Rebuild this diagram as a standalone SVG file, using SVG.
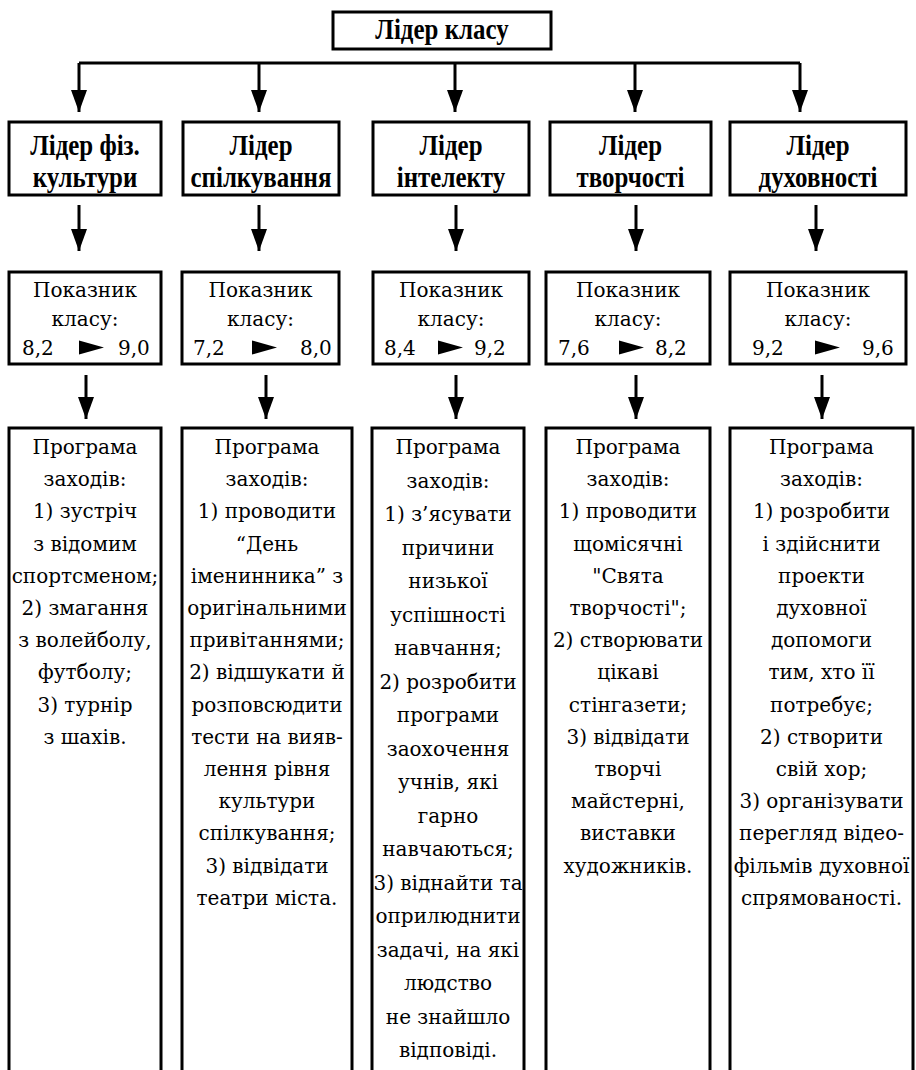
<svg xmlns="http://www.w3.org/2000/svg" width="916" height="1070" viewBox="0 0 916 1070">
<style>
.box{fill:#fff;stroke:#000;stroke-width:3}
.hd{font-family:'Liberation Serif','DejaVu Serif',serif;font-weight:bold;font-size:29px;fill:#000;text-anchor:middle}
.tx{font-family:'DejaVu Serif','Liberation Serif',serif;font-size:20px;fill:#000;text-anchor:middle}
.nv{font-family:'DejaVu Serif','Liberation Serif',serif;font-size:20px;fill:#000}
.ln{stroke:#000;stroke-width:3;fill:none}
.tri{fill:#000}
</style>
<defs>
<marker id="ah" markerUnits="userSpaceOnUse" markerWidth="24" markerHeight="18" refX="22" refY="8" orient="auto">
<path d="M0,0 L22,8 L0,16 z" fill="#000"/>
</marker>
</defs>
<rect width="916" height="1070" fill="#fff"/>
<g id="connectors">
<line class="ln" x1="79" y1="63" x2="800" y2="63"/>
<line class="ln" x1="79" y1="63" x2="79" y2="112" marker-end="url(#ah)"/>
<line class="ln" x1="259" y1="63" x2="259" y2="112" marker-end="url(#ah)"/>
<line class="ln" x1="455" y1="63" x2="455" y2="112" marker-end="url(#ah)"/>
<line class="ln" x1="635" y1="63" x2="635" y2="112" marker-end="url(#ah)"/>
<line class="ln" x1="800" y1="63" x2="800" y2="112" marker-end="url(#ah)"/>
<line class="ln" x1="79" y1="205" x2="79" y2="251" marker-end="url(#ah)"/>
<line class="ln" x1="259" y1="205" x2="259" y2="251" marker-end="url(#ah)"/>
<line class="ln" x1="456" y1="205" x2="456" y2="251" marker-end="url(#ah)"/>
<line class="ln" x1="636" y1="205" x2="636" y2="251" marker-end="url(#ah)"/>
<line class="ln" x1="816" y1="205" x2="816" y2="251" marker-end="url(#ah)"/>
<line class="ln" x1="86" y1="375" x2="86" y2="419" marker-end="url(#ah)"/>
<line class="ln" x1="266" y1="375" x2="266" y2="419" marker-end="url(#ah)"/>
<line class="ln" x1="456" y1="375" x2="456" y2="419" marker-end="url(#ah)"/>
<line class="ln" x1="636" y1="375" x2="636" y2="419" marker-end="url(#ah)"/>
<line class="ln" x1="822" y1="375" x2="822" y2="419" marker-end="url(#ah)"/>
</g>
<g id="leader-class">
<rect class="box" x="333" y="12" width="218" height="37"/>
<text class="hd" transform="translate(442,39) scale(0.86,1)">Лідер класу</text>
</g>
<g id="leader-1">
<rect class="box" x="9" y="122" width="152" height="73"/>
<text class="hd" transform="translate(85,155) scale(0.86,1)">Лідер фіз.</text>
<text class="hd" transform="translate(85,187) scale(0.86,1)">культури</text>
</g>
<g id="leader-2">
<rect class="box" x="183" y="122" width="156" height="73"/>
<text class="hd" transform="translate(261,155) scale(0.86,1)">Лідер</text>
<text class="hd" transform="translate(261,187) scale(0.86,1)">спілкування</text>
</g>
<g id="leader-3">
<rect class="box" x="373" y="122" width="156" height="73"/>
<text class="hd" transform="translate(451,155) scale(0.86,1)">Лідер</text>
<text class="hd" transform="translate(451,187) scale(0.86,1)">інтелекту</text>
</g>
<g id="leader-4">
<rect class="box" x="550" y="122" width="161" height="73"/>
<text class="hd" transform="translate(630.5,155) scale(0.86,1)">Лідер</text>
<text class="hd" transform="translate(630.5,187) scale(0.86,1)">творчості</text>
</g>
<g id="leader-5">
<rect class="box" x="730" y="122" width="176" height="73"/>
<text class="hd" transform="translate(818,155) scale(0.86,1)">Лідер</text>
<text class="hd" transform="translate(818,187) scale(0.86,1)">духовності</text>
</g>
<g id="index-1">
<rect class="box" x="9" y="272" width="152" height="92"/>
<text class="tx" x="85" y="297">Показник</text>
<text class="tx" x="85" y="326">класу:</text>
<text class="nv" x="22" y="355">8,2</text>
<polygon class="tri" points="79,340.5 104,347.5 79,354.5"/>
<text class="nv" x="118" y="355">9,0</text>
</g>
<g id="index-2">
<rect class="box" x="182" y="272" width="157" height="92"/>
<text class="tx" x="260.5" y="297">Показник</text>
<text class="tx" x="260.5" y="326">класу:</text>
<text class="nv" x="193" y="355">7,2</text>
<polygon class="tri" points="252,340.5 277,347.5 252,354.5"/>
<text class="nv" x="300" y="355">8,0</text>
</g>
<g id="index-3">
<rect class="box" x="373" y="272" width="156" height="92"/>
<text class="tx" x="451" y="297">Показник</text>
<text class="tx" x="451" y="326">класу:</text>
<text class="nv" x="384" y="355">8,4</text>
<polygon class="tri" points="438,340.5 463,347.5 438,354.5"/>
<text class="nv" x="474" y="355">9,2</text>
</g>
<g id="index-4">
<rect class="box" x="546" y="272" width="164" height="92"/>
<text class="tx" x="628" y="297">Показник</text>
<text class="tx" x="628" y="326">класу:</text>
<text class="nv" x="558" y="355">7,6</text>
<polygon class="tri" points="619,340.5 644,347.5 619,354.5"/>
<text class="nv" x="655" y="355">8,2</text>
</g>
<g id="index-5">
<rect class="box" x="730" y="272" width="176" height="92"/>
<text class="tx" x="818" y="297">Показник</text>
<text class="tx" x="818" y="326">класу:</text>
<text class="nv" x="752" y="355">9,2</text>
<polygon class="tri" points="815,340.5 840,347.5 815,354.5"/>
<text class="nv" x="862" y="355">9,6</text>
</g>
<g id="program-1">
<rect class="box" x="9" y="428" width="152" height="660"/>
<text class="tx" x="85" y="454">Програма</text>
<text class="tx" x="85" y="486.2">заходів:</text>
<text class="tx" x="85" y="518.4">1) зустріч</text>
<text class="tx" x="85" y="550.6">з відомим</text>
<text class="tx" x="85" y="582.8">спортсменом;</text>
<text class="tx" x="85" y="615">2) змагання</text>
<text class="tx" x="85" y="647.2">з волейболу,</text>
<text class="tx" x="85" y="679.4">футболу;</text>
<text class="tx" x="85" y="711.6">3) турнір</text>
<text class="tx" x="85" y="743.8">з шахів.</text>
</g>
<g id="program-2">
<rect class="box" x="182" y="428" width="170" height="660"/>
<text class="tx" x="267" y="454">Програма</text>
<text class="tx" x="267" y="486.2">заходів:</text>
<text class="tx" x="267" y="518.4">1) проводити</text>
<text class="tx" x="267" y="550.6">“День</text>
<text class="tx" x="267" y="582.8">іменинника” з</text>
<text class="tx" x="267" y="615">оригінальними</text>
<text class="tx" x="267" y="647.2">привітаннями;</text>
<text class="tx" x="267" y="679.4">2) відшукати й</text>
<text class="tx" x="267" y="711.6">розповсюдити</text>
<text class="tx" x="267" y="743.8">тести на вияв-</text>
<text class="tx" x="267" y="776">лення рівня</text>
<text class="tx" x="267" y="808.2">культури</text>
<text class="tx" x="267" y="840.4">спілкування;</text>
<text class="tx" x="267" y="872.6">3) відвідати</text>
<text class="tx" x="267" y="904.8">театри міста.</text>
</g>
<g id="program-3">
<rect class="box" x="372" y="428" width="152" height="660"/>
<text class="tx" x="448" y="454">Програма</text>
<text class="tx" x="448" y="487.5">заходів:</text>
<text class="tx" x="448" y="521">1) з’ясувати</text>
<text class="tx" x="448" y="554.5">причини</text>
<text class="tx" x="448" y="588">низької</text>
<text class="tx" x="448" y="621.5">успішності</text>
<text class="tx" x="448" y="655">навчання;</text>
<text class="tx" x="448" y="688.5">2) розробити</text>
<text class="tx" x="448" y="722">програми</text>
<text class="tx" x="448" y="755.5">заохочення</text>
<text class="tx" x="448" y="789">учнів, які</text>
<text class="tx" x="448" y="822.5">гарно</text>
<text class="tx" x="448" y="856">навчаються;</text>
<text class="tx" x="448" y="889.5">3) віднайти та</text>
<text class="tx" x="448" y="923">оприлюднити</text>
<text class="tx" x="448" y="956.5">задачі, на які</text>
<text class="tx" x="448" y="990">людство</text>
<text class="tx" x="448" y="1023.5">не знайшло</text>
<text class="tx" x="448" y="1057">відповіді.</text>
</g>
<g id="program-4">
<rect class="box" x="546" y="428" width="164" height="660"/>
<text class="tx" x="628" y="454">Програма</text>
<text class="tx" x="628" y="486.2">заходів:</text>
<text class="tx" x="628" y="518.4">1) проводити</text>
<text class="tx" x="628" y="550.6">щомісячні</text>
<text class="tx" x="628" y="582.8">"Свята</text>
<text class="tx" x="628" y="615">творчості";</text>
<text class="tx" x="628" y="647.2">2) створювати</text>
<text class="tx" x="628" y="679.4">цікаві</text>
<text class="tx" x="628" y="711.6">стінгазети;</text>
<text class="tx" x="628" y="743.8">3) відвідати</text>
<text class="tx" x="628" y="776">творчі</text>
<text class="tx" x="628" y="808.2">майстерні,</text>
<text class="tx" x="628" y="840.4">виставки</text>
<text class="tx" x="628" y="872.6">художників.</text>
</g>
<g id="program-5">
<rect class="box" x="730" y="428" width="183" height="660"/>
<text class="tx" x="821.5" y="454">Програма</text>
<text class="tx" x="821.5" y="486.2">заходів:</text>
<text class="tx" x="821.5" y="518.4">1) розробити</text>
<text class="tx" x="821.5" y="550.6">і здійснити</text>
<text class="tx" x="821.5" y="582.8">проекти</text>
<text class="tx" x="821.5" y="615">духовної</text>
<text class="tx" x="821.5" y="647.2">допомоги</text>
<text class="tx" x="821.5" y="679.4">тим, хто її</text>
<text class="tx" x="821.5" y="711.6">потребує;</text>
<text class="tx" x="821.5" y="743.8">2) створити</text>
<text class="tx" x="821.5" y="776">свій хор;</text>
<text class="tx" x="821.5" y="808.2">3) організувати</text>
<text class="tx" x="821.5" y="840.4">перегляд відео-</text>
<text class="tx" x="821.5" y="872.6">фільмів духовної</text>
<text class="tx" x="821.5" y="904.8">спрямованості.</text>
</g>
</svg>
